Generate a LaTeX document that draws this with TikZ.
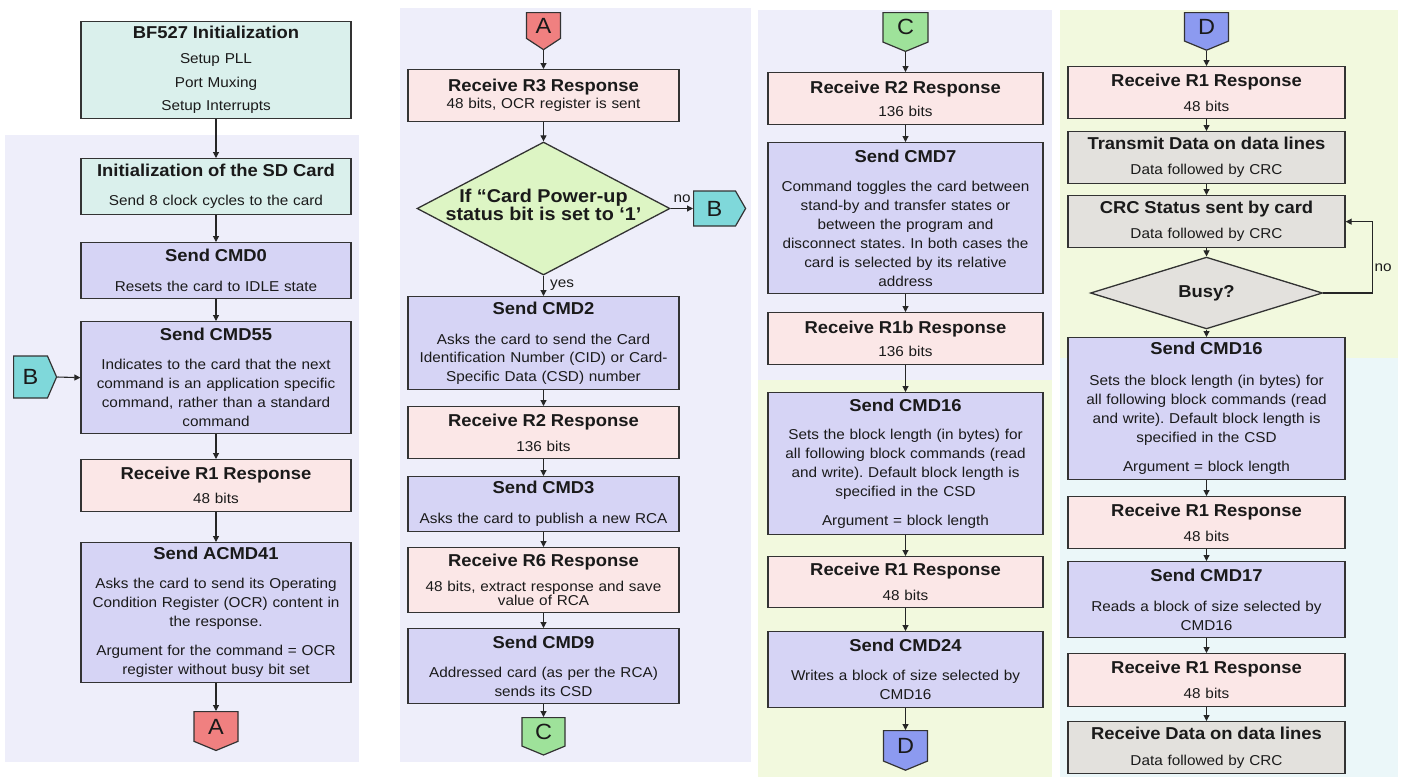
\documentclass[tikz,border=0pt]{standalone}
\usepackage{fontspec}
\setmainfont[FakeStretch=1.07]{Liberation Sans}
\usetikzlibrary{shapes.geometric,shapes.symbols,arrows.meta}
\definecolor{bglav}{HTML}{EEEEFA}
\definecolor{bggreen}{HTML}{F2F9DE}
\definecolor{bgcyan}{HTML}{EBF7F9}
\definecolor{fteal}{HTML}{DAF0EC}
\definecolor{fpurple}{HTML}{D6D4F5}
\definecolor{fpink}{HTML}{FBE7E7}
\definecolor{fgray}{HTML}{E3E1DD}
\definecolor{fdiag}{HTML}{DDF5C4}
\definecolor{bordc}{HTML}{333333}
\definecolor{txtc}{HTML}{1A1A1A}
\definecolor{cA}{HTML}{F08080}
\definecolor{cB}{HTML}{7FD8DA}
\definecolor{cC}{HTML}{9EE29A}
\definecolor{cD}{HTML}{8C9AF0}
\newcommand\ttl[2][8pt]{{\fontsize{17.2}{20}\selectfont\bfseries #2\par}\vspace{#1}}
\newcommand\para{\par\vspace{10pt}}
\frenchspacing
\begin{document}
\begin{tikzpicture}[x=1pt,y=-1pt,
  box/.style={draw=bordc, line width=1.3pt, inner sep=0pt, align=center, anchor=north, text=txtc, font=\fontsize{14.3}{19}\selectfont\frenchspacing},
  ca/.style={box, text width=270pt},
  cb/.style={box, text width=271pt},
  cc/.style={box, text width=275pt},
  cd/.style={box, text width=277pt},
  teal/.style={fill=fteal}, purp/.style={fill=fpurple}, pink/.style={fill=fpink}, gray/.style={fill=fgray},
  arr/.style={-{Triangle[length=6pt,width=6pt]}, line width=1.1pt, draw=black!85},
  conn/.style={signal, draw=bordc, line width=1.2pt, inner sep=0pt, font=\fontsize{22}{22}\selectfont, text=txtc},
  dn/.style={conn, signal to=south, anchor=north, signal pointer angle=135},
  rt/.style={conn, signal to=east, anchor=west, signal pointer angle=133},
  lbl/.style={font=\fontsize{14.3}{18}\selectfont, text=txtc, inner sep=1pt}
]
\useasboundingbox (0,0) rectangle (1404,777);
% backgrounds
\fill[bglav] (5,135) rectangle (359,762);
\fill[bglav] (400,8) rectangle (751,762);
\fill[bglav] (758,10) rectangle (1052,380);
\fill[bggreen] (758,380) rectangle (1052,777);
\fill[bggreen] (1060,10) rectangle (1398,358);
\fill[bgcyan] (1060,358) rectangle (1398,777);

% ---------- column 1
\node[ca,teal,minimum height=97pt] (bf) at (216,21) {\ttl[6pt]{BF527 Initialization}Setup PLL\\[4.5pt]Port Muxing\\[4.5pt]Setup Interrupts};
\node[ca,teal,minimum height=56pt] (sd) at (216,158) {\ttl[10pt]{Initialization of the SD Card}Send 8 clock cycles to the card};
\node[ca,purp,minimum height=56pt] (cmd0) at (216,242) {\ttl[11pt]{Send CMD0}Resets the card to IDLE state};
\node[ca,purp,minimum height=112pt] (cmd55) at (216,321) {\ttl[10pt]{Send CMD55}Indicates to the card that the next\\command is an application specific\\command, rather than a standard\\command};
\node[ca,pink,minimum height=52pt] (r1a) at (216,459) {\ttl[5pt]{Receive R1 Response}48 bits};
\node[ca,purp,minimum height=140pt] (acmd41) at (216,542) {\ttl[10pt]{Send ACMD41}Asks the card to send its Operating\\Condition Register (OCR) content in\\the response.\para Argument for the command = OCR\\register without busy bit set};
\node[dn,fill=cA,minimum width=44pt,minimum height=33pt] (A1) at (216,711) {A};
\node[rt,fill=cB,minimum width=43pt,minimum height=42pt] (B1) at (13,377) {B};

\draw[arr] (bf) -- (sd);
\draw[arr] (sd) -- (cmd0);
\draw[arr] (cmd0) -- (cmd55);
\draw[arr] (cmd55) -- (r1a);
\draw[arr] (r1a) -- (acmd41);
\draw[arr] (acmd41.south) -- (A1.north);
\draw[arr] (B1.east) -- (cmd55.west);

% ---------- column 2
\node[dn,fill=cA,minimum width=34pt,minimum height=31pt,signal pointer angle=113] (A2) at (543.5,12) {A};
\node[cb,pink,minimum height=52pt] (r3) at (543.5,69) {\ttl[-2pt]{Receive R3 Response}48 bits, OCR register is sent};
\node[diamond,draw=bordc,line width=1.3pt,fill=fdiag,inner sep=0pt,minimum width=253pt,minimum height=133pt] (dia) at (543.5,208.5) {};
\node[font=\fontsize{18.5}{18}\selectfont\bfseries,align=center,text=txtc] (diatxt) at (543.5,205) {If “Card Power-up\\status bit is set to ‘1’};
\node[rt,fill=cB,minimum width=52pt,minimum height=35pt,signal pointer angle=120] (B2) at (693,208.5) {B};
\node[cb,purp,minimum height=93pt] (cmd2) at (543.5,296) {\ttl[11pt]{Send CMD2}Asks the card to send the Card\\[-0.5pt]Identification Number (CID) or Card-\\[-0.5pt]Specific Data (CSD) number};
\node[cb,pink,minimum height=52pt] (r2b) at (543.5,406) {\ttl[6pt]{Receive R2 Response}136 bits};
\node[cb,purp,minimum height=55pt] (cmd3) at (543.5,476) {\ttl[11pt]{Send CMD3}Asks the card to publish a new RCA};
\node[cb,pink,minimum height=65pt] (r6) at (543.5,547) {\ttl[6pt]{Receive R6 Response}48 bits, extract response and save\\[-5pt]value of RCA};
\node[cb,purp,minimum height=75pt] (cmd9) at (543.5,628) {\ttl[10pt]{Send CMD9}Addressed card (as per the RCA)\\sends its CSD};
\node[dn,fill=cC,minimum width=43pt,minimum height=32pt] (C1) at (543.5,717) {C};

\draw[arr] (A2.south) -- (r3.north);
\draw[arr] (r3) -- (dia);
\draw[arr] (dia.south) -- (cmd2.north);
\node[lbl,anchor=west] (yes) at (549,285) {yes};
\draw[arr] (dia.east) -- (B2.west);
\node[lbl] (no1) at (682,199) {no};
\draw[arr] (cmd2) -- (r2b);
\draw[arr] (r2b) -- (cmd3);
\draw[arr] (cmd3) -- (r6);
\draw[arr] (r6) -- (cmd9);
\draw[arr] (cmd9.south) -- (C1.north);

% ---------- column 3
\node[dn,fill=cC,minimum width=45pt,minimum height=33pt] (C2) at (905.5,12) {C};
\node[cc,pink,minimum height=52pt] (r2c) at (905.5,72) {\ttl[4pt]{Receive R2 Response}136 bits};
\node[cc,purp,minimum height=151pt] (cmd7) at (905.5,142) {\ttl[10pt]{Send CMD7}Command toggles the card between\\stand-by and transfer states or\\between the program and\\disconnect states. In both cases the\\card is selected by its relative\\address};
\node[cc,pink,minimum height=52pt] (r1b) at (905.5,312) {\ttl[4pt]{Receive R1b Response}136 bits};
\node[cc,purp,minimum height=142pt] (cmd16c) at (905.5,392) {\ttl[9pt]{Send CMD16}Sets the block length (in bytes) for\\all following block commands (read\\and write). Default block length is\\specified in the CSD\para Argument = block length};
\node[cc,pink,minimum height=51pt] (r1c) at (905.5,556) {\ttl[6pt]{Receive R1 Response}48 bits};
\node[cc,purp,minimum height=76pt] (cmd24) at (905.5,631) {\ttl[10pt]{Send CMD24}Writes a block of size selected by\\CMD16};
\node[dn,fill=cD,minimum width=44pt,minimum height=34pt] (D1) at (905.5,730) {D};

\draw[arr] (C2.south) -- (r2c.north);
\draw[arr] (r2c) -- (cmd7);
\draw[arr] (cmd7) -- (r1b);
\draw[arr] (r1b) -- (cmd16c);
\draw[arr] (cmd16c) -- (r1c);
\draw[arr] (r1c) -- (cmd24);
\draw[arr] (cmd24.south) -- (D1.north);

% ---------- column 4
\node[dn,fill=cD,minimum width=44pt,minimum height=32pt] (D2) at (1206.5,12) {D};
\node[cd,pink,minimum height=52pt] (r1d) at (1206.5,66) {\ttl[6pt]{Receive R1 Response}48 bits};
\node[cd,gray,minimum height=52pt] (tx) at (1206.5,131) {\ttl[6pt]{Transmit Data on data lines}Data followed by CRC};
\node[cd,gray,minimum height=52pt] (crc) at (1206.5,195) {\ttl[6pt]{CRC Status sent by card}Data followed by CRC};
\node[diamond,draw=bordc,line width=1.3pt,fill=fgray,inner sep=0pt,minimum width=232pt,minimum height=60pt,font=\fontsize{17.2}{20}\selectfont\bfseries,text=txtc] (busy) at (1206.5,293) {Busy?};
\node[cd,purp,minimum height=142pt] (cmd16d) at (1206.5,337) {\ttl[12pt]{Send CMD16}Sets the block length (in bytes) for\\all following block commands (read\\and write). Default block length is\\specified in the CSD\para Argument = block length};
\node[cd,pink,minimum height=52pt] (r1e) at (1206.5,496) {\ttl[6pt]{Receive R1 Response}48 bits};
\node[cd,purp,minimum height=76pt] (cmd17) at (1206.5,561) {\ttl[11pt]{Send CMD17}Reads a block of size selected by\\CMD16};
\node[cd,pink,minimum height=53pt] (r1f) at (1206.5,653) {\ttl[6pt]{Receive R1 Response}48 bits};
\node[cd,gray,minimum height=52pt] (rd) at (1206.5,721) {\ttl[7pt]{Receive Data on data lines}Data followed by CRC};

\draw[arr] (D2.south) -- (r1d.north);
\draw[arr] (r1d) -- (tx);
\draw[arr] (tx) -- (crc);
\draw[arr] (crc) -- (busy);
\draw[arr] (busy) -- (cmd16d);
\draw[arr] (busy.east) -- ++(49,0) |- (crc.east);
\node[lbl] (no2) at (1383,268) {no};
\draw[arr] (cmd16d) -- (r1e);
\draw[arr] (r1e) -- (cmd17);
\draw[arr] (cmd17) -- (r1f);
\draw[arr] (r1f) -- (rd);
\end{tikzpicture}
\end{document}
